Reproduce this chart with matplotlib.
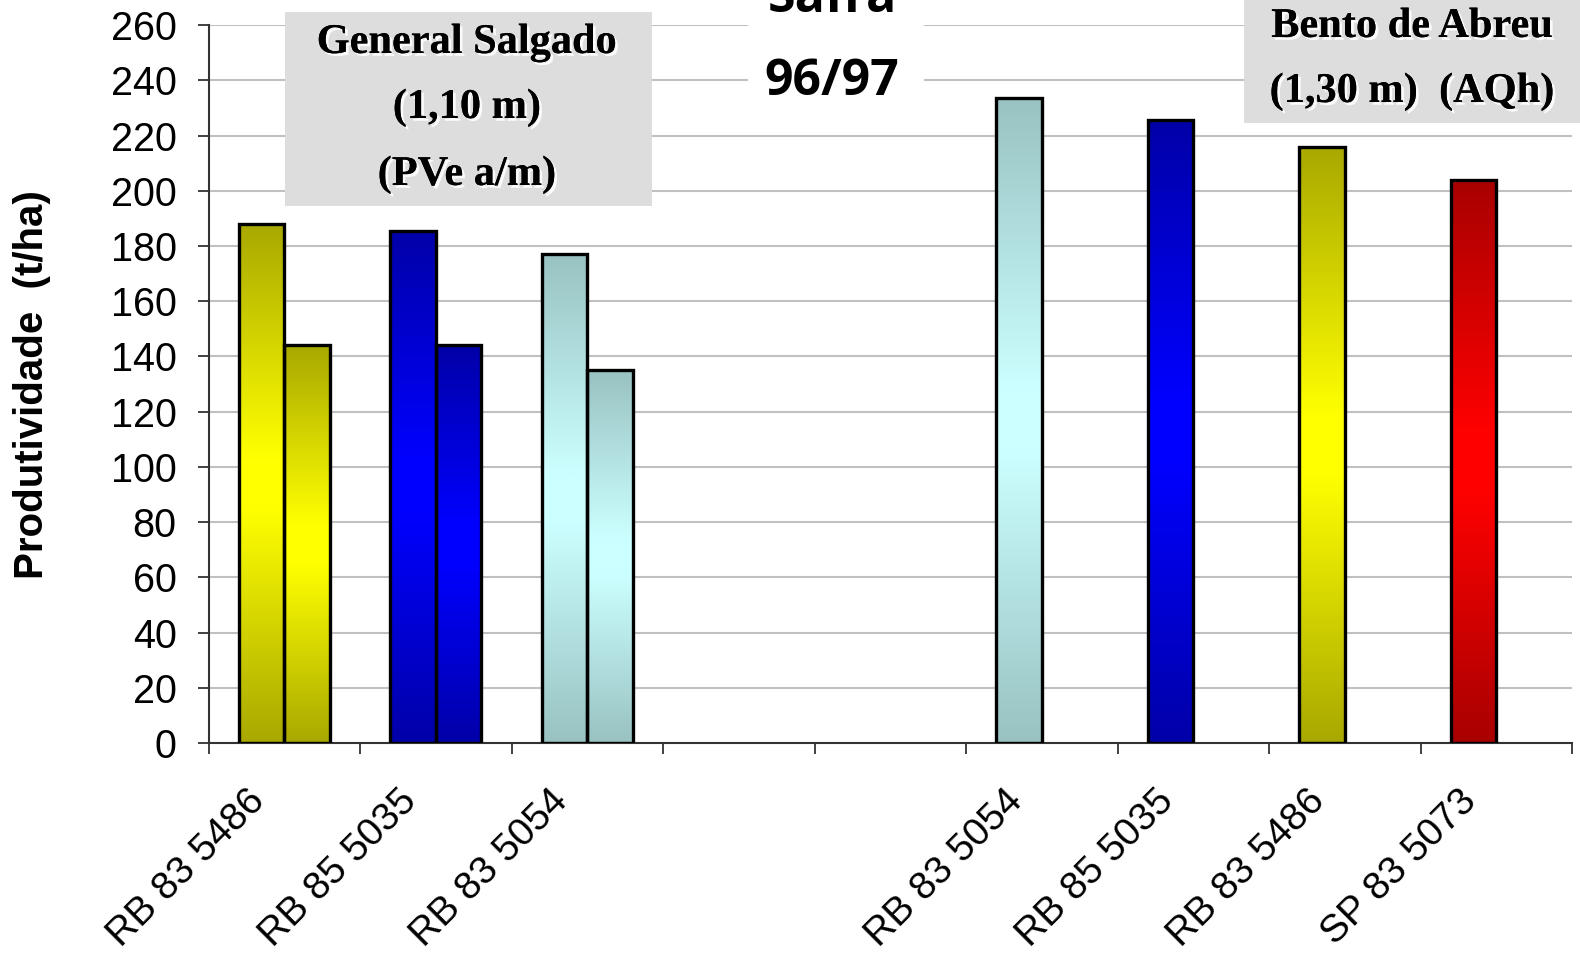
import numpy as np
import matplotlib
matplotlib.use("Agg")
import matplotlib.pyplot as plt
import matplotlib.patheffects as pe
from matplotlib.colors import LinearSegmentedColormap
from matplotlib.patches import Rectangle
from matplotlib.transforms import ScaledTranslation

# variedades (duas lacunas separam os dois locais)
variedades = ['RB 83 5486', 'RB 85 5035', 'RB 83 5054', '', '',
              'RB 83 5054', 'RB 85 5035', 'RB 83 5486', 'SP 83 5073']
# produtividade (t/ha), primeira e segunda barra de cada variedade
prod_1 = [188, 185.5, 177, np.nan, np.nan, 233.5, 225.5, 216, 204]
prod_2 = [144, 144, 135, np.nan, np.nan, np.nan, np.nan, np.nan, np.nan]
cores = ['amarelo', 'azul', 'ciano', None, None, 'ciano', 'azul', 'amarelo', 'vermelho']

degrade = {
    'amarelo': ('#A8A800', '#FFFF00'),
    'azul': ('#0000A8', '#0000FF'),
    'ciano': ('#99C2C2', '#CCFFFF'),
    'vermelho': ('#A80000', '#FF0000'),
}

fig = plt.figure(figsize=(15.8, 9.57), dpi=100)
ax = fig.add_axes([208.6 / 1580, 1 - 743 / 957, (1572 - 208.6) / 1580, (743 - 25.2) / 957])

grad = np.linspace(0, 1, 256).reshape(-1, 1)


def barra(x, h, cor):
    escuro, claro = degrade[cor]
    cmap = LinearSegmentedColormap.from_list(cor, [(0, escuro), (0.45, claro), (0.55, claro), (1, escuro)])
    b = ax.bar(x, h, width=0.3, facecolor='none', edgecolor='black', linewidth=2.4, zorder=3)[0]
    im = ax.imshow(grad, extent=[x - 0.15, x + 0.15, 0, h], origin='lower', cmap=cmap,
                   aspect='auto', interpolation='bicubic', zorder=2)
    im.set_clip_path(b)


for i in range(len(variedades)):
    if not np.isnan(prod_1[i]):
        barra(i - 0.15, prod_1[i], cores[i])
    if not np.isnan(prod_2[i]):
        barra(i + 0.15, prod_2[i], cores[i])

ax.set_xlim(-0.5, 8.5)
ax.set_ylim(0, 260)
ax.set_yticks(np.arange(0, 261, 20))
ax.yaxis.grid(True, color='#C0C0C0', linewidth=1.5)
ax.set_axisbelow(True)

for s in ['top', 'right']:
    ax.spines[s].set_visible(False)
for s in ['left', 'bottom']:
    ax.spines[s].set_color('#333333')
    ax.spines[s].set_linewidth(1.5)

ax.tick_params(axis='y', length=8, width=1.3, color='#333333', pad=15, labelsize=28.5)
for t in ax.get_yticklabels():
    t.set_fontfamily('Liberation Sans')

ax.set_xticks(range(len(variedades)))
ax.set_xticklabels(variedades, fontsize=28, fontfamily='Liberation Sans')
ax.set_xticks(np.arange(-0.5, 9, 1), minor=True)
ax.tick_params(axis='x', which='major', length=0, pad=38)
ax.tick_params(axis='x', which='minor', length=8, width=1.3, color='#333333')
desloca = ScaledTranslation(-0.25, 0, fig.dpi_scale_trans)
for t in ax.get_xticklabels():
    t.set_rotation(45)
    t.set_ha('right')
    t.set_va('center')
    t.set_rotation_mode('anchor')
    t.set_transform(t.get_transform() + desloca)

fig.text(32 / 1580, 1 - 385 / 957, 'Produtividade  (t/ha)', rotation=90, ha='center', va='center',
         fontsize=29, fontweight='bold', fontfamily='Liberation Sans')

# caixas dos locais
sombra = [pe.withSimplePatchShadow(offset=(2, -2), shadow_rgbFace='white', alpha=0.9), pe.Normal()]


def caixa(x0, y0, x1, y1, cor):
    fig.patches.append(Rectangle((x0 / 1580, 1 - y1 / 957), (x1 - x0) / 1580, (y1 - y0) / 957,
                                 transform=fig.transFigure, facecolor=cor, edgecolor='none', zorder=4))


def linha(x, y, s, **kw):
    fig.text(x / 1580, 1 - y / 957, s, ha='center', va='baseline', zorder=5, **kw)


caixa(285, 12, 652, 206, '#DDDDDD')
for y, s in zip([53, 118, 185], ['General Salgado', '(1,10 m)', '(PVe a/m)']):
    linha(467, y, s, fontsize=30.5, fontweight='bold', fontfamily='Liberation Serif', path_effects=sombra)

caixa(1244, 0, 1580, 123, '#DDDDDD')
for y, s in zip([37, 102], ['Bento de Abreu', '(1,30 m)  (AQh)']):
    linha(1412, y, s, fontsize=30.5, fontweight='bold', fontfamily='Liberation Serif', path_effects=sombra)

caixa(748, 0, 924, 110, 'white')
for y, s in zip([12, 95], ['Safra', '96/97']):
    linha(832, y, s, fontsize=36, fontweight='bold', fontfamily='Open Sans')

fig.savefig('out.png', dpi=100)
